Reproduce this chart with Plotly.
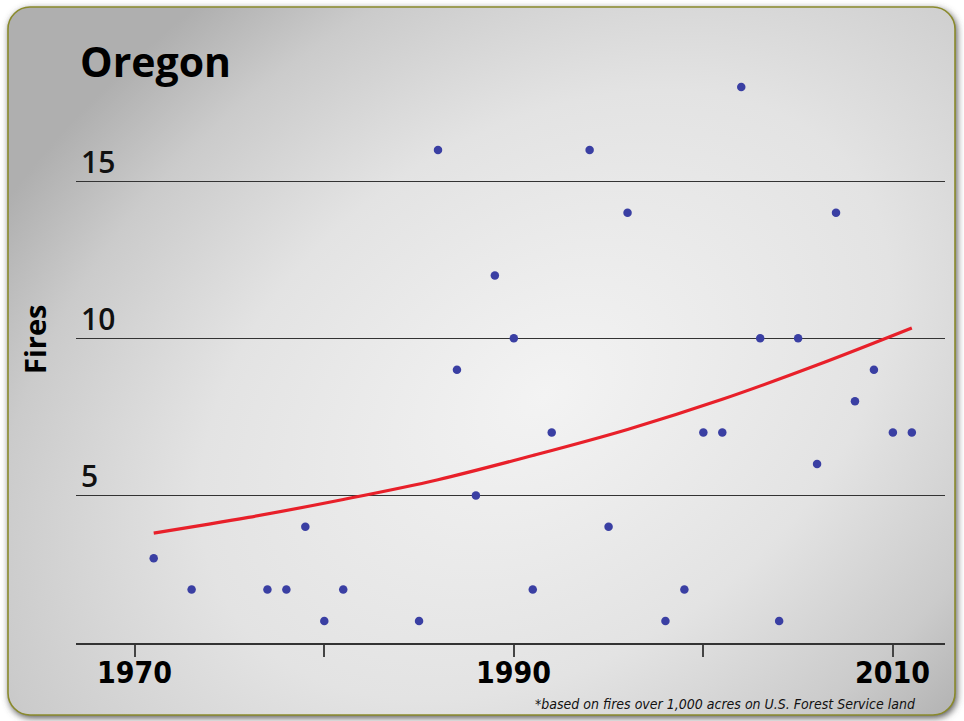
import base64
import plotly.graph_objects as go

# ---- data ----
years = [1971, 1973, 1977, 1978, 1979, 1980, 1981, 1985, 1986, 1987, 1988, 1989,
         1990, 1991, 1992, 1994, 1995, 1996, 1998, 1999, 2000, 2001, 2002, 2003,
         2004, 2005, 2006, 2007, 2008, 2009, 2010, 2011]
fires = [3, 2, 2, 2, 4, 1, 2, 1, 16, 9, 5, 12,
         10, 2, 7, 16, 4, 14, 1, 2, 7, 7, 18, 10,
         1, 10, 6, 14, 8, 9, 7, 7]

trend_years = [1971, 1976, 1981, 1986, 1991, 1996, 2001, 2006, 2011]
trend_values = [3.8, 4.3, 4.87, 5.5, 6.27, 7.1, 8.06, 9.15, 10.33]

x_tick_vals = [1970, 1980, 1990, 2000, 2010]
x_label_vals = [1970, 1990, 2010]
x_label_text = ["1970", "1990", "2010"]
y_grid_vals = [5, 10, 15]
y_tick_text = ["5", "10", "15"]

title_text = "Oregon"
y_title = "Fires"
footnote = "*based on fires over 1,000 acres on U.S. Forest Service land"

# ---- layout geometry ----
W, H = 964, 721
L, R, T, B = 76, 19, 40, 78
PW, PH = W - L - R, H - T - B

def py(ypix):
    """paper y for a pixel row measured from the top of the figure"""
    return (H - B - ypix) / PH

svg = f'''<svg xmlns="http://www.w3.org/2000/svg" width="{W}" height="{H}" viewBox="0 0 {W} {H}">
<defs>
<radialGradient id="g" gradientUnits="userSpaceOnUse" cx="0" cy="0" r="1"
 gradientTransform="translate(545 395) rotate(-35) scale(760 520)">
<stop offset="0" stop-color="#f3f3f3"/>
<stop offset="0.5" stop-color="#e3e3e3"/>
<stop offset="0.8" stop-color="#cbcbcb"/>
<stop offset="1" stop-color="#afafaf"/>
</radialGradient>
<filter id="s" x="-5%" y="-5%" width="110%" height="110%"><feGaussianBlur stdDeviation="3.5"/></filter>
</defs>
<rect x="9" y="9" width="948" height="709" rx="22" fill="#555" filter="url(#s)"/>
<rect x="8" y="7" width="947" height="708" rx="22" fill="url(#g)" stroke="#8a8a2c" stroke-width="1.6"/>
</svg>'''
bg_uri = "data:image/svg+xml;base64," + base64.b64encode(svg.encode()).decode()

fig = go.Figure()

fig.add_trace(go.Scatter(
    x=trend_years, y=trend_values, mode="lines",
    line=dict(color="#e8202a", width=3.2, shape="spline"),
    hoverinfo="skip", showlegend=False))

fig.add_trace(go.Scatter(
    x=years, y=fires, mode="markers",
    marker=dict(color="#3a3fa3", size=8.5),
    showlegend=False))

narrow = "DejaVu Sans Condensed, Liberation Sans Narrow, Arial Narrow, sans-serif"

annotations = []
for v, t in zip(y_grid_vals, y_tick_text):
    annotations.append(dict(
        x=(79 - L) / PW, xref="paper", y=v, yref="y", text=t, showarrow=False,
        xanchor="left", yanchor="bottom", yshift=-3,
        font=dict(family="Open Sans", size=30, color="#111", weight=600)))

for v, t in zip(x_label_vals, x_label_text):
    annotations.append(dict(
        x=v, xref="x", y=py(672), yref="paper", text=f"<b>{t}</b>", showarrow=False,
        xanchor="center", yanchor="middle",
        font=dict(family=narrow, size=30, color="#000")))

annotations += [
    dict(x=(78 - L) / PW, xref="paper", y=py(61), yref="paper",
         text=f"<b>{title_text}</b>", showarrow=False, xanchor="left", yanchor="middle",
         font=dict(family="Open Sans", size=41, color="#000")),
    dict(x=(34 - L) / PW, xref="paper", y=py(340), yref="paper",
         text=f"<b>{y_title}</b>", showarrow=False, textangle=-90,
         xanchor="center", yanchor="middle",
         font=dict(family="Open Sans", size=29, color="#000")),
    dict(x=(918 - L) / PW, xref="paper", y=py(704), yref="paper",
         text=f"<i>{footnote}</i>", showarrow=False, xanchor="right", yanchor="middle",
         font=dict(family=narrow, size=14, color="#111")),
]

fig.update_layout(
    width=W, height=H,
    margin=dict(l=L, r=R, t=T, b=B, pad=0),
    paper_bgcolor="white", plot_bgcolor="rgba(0,0,0,0)",
    images=[dict(source=bg_uri, xref="paper", yref="paper",
                 x=-L / PW, y=1 + T / PH, sizex=W / PW, sizey=H / PH,
                 xanchor="left", yanchor="top", sizing="stretch", layer="below")],
    annotations=annotations,
    xaxis=dict(range=[1966.9, 2012.75], tickvals=x_tick_vals, showticklabels=False,
               ticks="outside", ticklen=12, tickwidth=1.5, tickcolor="#444",
               showline=True, linecolor="#333", linewidth=1.5, showgrid=False,
               zeroline=False),
    yaxis=dict(range=[0.3, 19.5], tickvals=y_grid_vals, showticklabels=False,
               showgrid=True, gridcolor="#333", gridwidth=1.2, zeroline=False,
               showline=False, ticks=""),
)

fig.write_html("out.html", config={"displayModeBar": False},
               post_script="document.body.style.margin='0';")
